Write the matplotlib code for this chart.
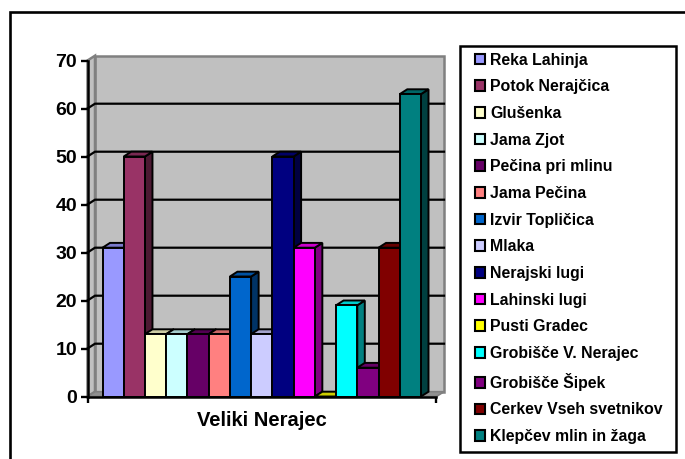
import matplotlib
matplotlib.use("Agg")
import matplotlib.pyplot as plt
from matplotlib.patches import Polygon, Patch, Rectangle
from matplotlib.lines import Line2D

plt.rcParams['font.family'] = ['Liberation Sans', 'DejaVu Sans']

names = ["Reka Lahinja", "Potok Nerajčica", "Glušenka", "Jama Zjot", "Pečina pri mlinu",
         "Jama Pečina", "Izvir Topličica", "Mlaka", "Nerajski lugi", "Lahinski lugi",
         "Pusti Gradec", "Grobišče V. Nerajec", "Grobišče Šipek", "Cerkev Vseh svetnikov",
         "Klepčev mlin in žaga"]
values = [31, 50, 13, 13, 13, 13, 25, 13, 50, 31, 0, 19, 6, 31, 63]
colors = ["#9999FF", "#993366", "#FFFFCC", "#CCFFFF", "#660066", "#FF8080", "#0066CC",
          "#CCCCFF", "#000080", "#FF00FF", "#FFFF00", "#00FFFF", "#800080", "#800000",
          "#008080"]
yticks = [0, 10, 20, 30, 40, 50, 60, 70]
group = "Veliki Nerajec"

W, H = 685, 459
fig = plt.figure(figsize=(W / 100, H / 100), dpi=100, facecolor="white")
L, R, T, B = 87.5, 436.5, 60.5, 396.5
ax = fig.add_axes([L / W, 1 - B / H, (R - L) / W, (B - T) / H])

unit = 21.23
x0 = -(102.5 - L) / unit
x1 = 15 + (R - 421) / unit
ax.set_xlim(x0, x1)
ax.set_ylim(0, 70)
DX = 7.5 / unit
DY = 1.0
ax.patch.set_visible(False)


def shade(c, f):
    r, g, b = matplotlib.colors.to_rgb(c)
    return (r * f, g * f, b * f)


WALL = "#C0C0C0"
EDGE = "#808080"
def poly(pts, fc, ec, lw, z):
    ax.add_patch(Polygon(pts, closed=True, facecolor=fc, edgecolor=ec, linewidth=lw,
                         zorder=z, clip_on=False, joinstyle="miter"))

# walls and floor
poly([(x0 + DX, DY), (x1 + DX, DY), (x1 + DX, 70 + DY), (x0 + DX, 70 + DY)], WALL, EDGE, 1.8, 1)
poly([(x0, 0), (x0 + DX, DY), (x0 + DX, 70 + DY), (x0, 70)], WALL, EDGE, 1.8, 1)
poly([(x0, 0), (x1, 0), (x1 + DX, DY), (x0 + DX, DY)], "#909090", EDGE, 1.2, 1)

# gridlines on back wall and left wall
for v in yticks[1:-1]:
    ax.plot([x0, x0 + DX, x1 + DX], [v, v + DY, v + DY], color="black", lw=1.6,
            zorder=2, clip_on=False, solid_joinstyle="miter")

# 3-D bars
lw = 1.4
for i, (v, c) in enumerate(zip(values, colors)):
    z = 3 + i * 0.01
    poly([(i + 1, 0), (i + 1 + DX, DY), (i + 1 + DX, v + DY), (i + 1, v)], shade(c, 0.5), "black", lw, z)
    poly([(i, v), (i + 1, v), (i + 1 + DX, v + DY), (i + DX, v + DY)], shade(c, 0.8), "black", lw, z)
    if v > 0:
        poly([(i, 0), (i + 1, 0), (i + 1, v), (i, v)], c, "black", lw, z)

# axes
for s in ("top", "right"):
    ax.spines[s].set_visible(False)
for s in ("left", "bottom"):
    ax.spines[s].set_linewidth(1.8)
    ax.spines[s].set_zorder(5)
ax.set_yticks(yticks)
ax.set_yticklabels([str(v) for v in yticks], fontsize=14, fontweight="bold")
ax.tick_params(axis="y", length=5, width=1.7, pad=2.5)
ax.set_xticks([x0, x1])
ax.set_xticklabels(["", ""])
ax.tick_params(axis="x", length=4, width=1.7)
ax.set_xlabel(group, fontsize=14.5, fontweight="bold", labelpad=3)

# outer chart frame
fig.add_artist(Line2D([9.5 / W, 9.5 / W, 1], [0, 1 - 11.5 / H, 1 - 11.5 / H],
                      color="black", lw=1.9, transform=fig.transFigure, solid_joinstyle="miter"))

# legend frame and entries
fig.add_artist(Rectangle((460 / W, 1 - 452 / H), 215.5 / W, 406 / H, transform=fig.transFigure,
                         facecolor="white", edgecolor="black", linewidth=1.8, zorder=1))
handles = [Patch(facecolor=c, edgecolor="black", linewidth=1.5) for c in colors]
leg = fig.legend(handles, names, loc="upper left", bbox_to_anchor=(475 / W, 1 - 52.5 / H),
                 bbox_transform=fig.transFigure, borderaxespad=0, frameon=False,
                 prop={"family": "Liberation Sans", "weight": "bold", "size": 11.45},
                 handlelength=0.66, handleheight=0.66, handletextpad=0.28,
                 labelspacing=0.735, borderpad=0)
leg.set_zorder(2)

fig.savefig("out.png", dpi=100)
